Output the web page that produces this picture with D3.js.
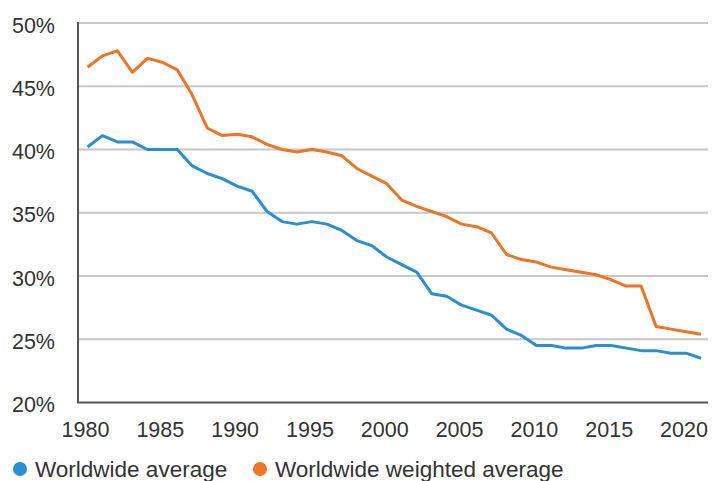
<!DOCTYPE html>
<html>
<head>
<meta charset="utf-8">
<script src="https://cdn.jsdelivr.net/npm/d3@7"></script>
<style>
  body { margin: 0; background: #fff; }
  text { font-family: "Liberation Sans", Arial, sans-serif; fill: #333; }
</style>
</head>
<body>
<svg id="canvas" width="712" height="481"></svg>
<script>
const years = d3.range(1980, 2022);

const worldwideAverage = [
  40.2, 41.1, 40.6, 40.6, 40.0, 40.0, 40.0, 38.7, 38.1, 37.7,
  37.1, 36.7, 35.1, 34.3, 34.1, 34.3, 34.1, 33.6, 32.8, 32.4,
  31.5, 30.9, 30.3, 28.6, 28.4, 27.7, 27.3, 26.9, 25.8, 25.3,
  24.5, 24.5, 24.3, 24.3, 24.5, 24.5, 24.3, 24.1, 24.1, 23.9,
  23.9, 23.5
];

const worldwideWeighted = [
  46.5, 47.4, 47.8, 46.1, 47.2, 46.9, 46.3, 44.3, 41.7, 41.1,
  41.2, 41.0, 40.4, 40.0, 39.8, 40.0, 39.8, 39.5, 38.5, 37.9,
  37.3, 36.0, 35.5, 35.1, 34.7, 34.1, 33.9, 33.4, 31.7, 31.3,
  31.1, 30.7, 30.5, 30.3, 30.1, 29.7, 29.2, 29.2, 26.0, 25.8,
  25.6, 25.4
];

const xTicks = [1980, 1985, 1990, 1995, 2000, 2005, 2010, 2015, 2020];
const yTicks = [20, 25, 30, 35, 40, 45, 50];

const series = [
  { name: "Worldwide average", values: worldwideAverage, color: "#2a8fd2" },
  { name: "Worldwide weighted average", values: worldwideWeighted, color: "#ee7426" }
];

const svg = d3.select("#canvas");
const plotLeft = 78, plotRight = 708, plotTop = 23, plotBottom = 402.5;

const x = d3.scaleLinear().domain([1980, 2021]).range([87.5, 701]);
const y = d3.scaleLinear().domain([20, 50]).range([plotBottom, plotTop]);

// grid lines
svg.append("g")
  .selectAll("line")
  .data(yTicks.filter(d => d > 20))
  .enter()
  .append("line")
  .attr("x1", plotLeft)
  .attr("x2", plotRight)
  .attr("y1", d => y(d))
  .attr("y2", d => y(d))
  .attr("stroke", "#c8c8c8")
  .attr("stroke-width", 2);

// y axis labels
const yAxis = d3.axisLeft(y).tickValues(yTicks).tickSize(0).tickPadding(0)
  .tickFormat(d => d + "%");
svg.append("g")
  .attr("transform", `translate(${plotLeft - 23},0)`)
  .call(yAxis)
  .call(g => g.select(".domain").remove())
  .selectAll("text")
  .attr("dy", "0.42em")
  .style("font-size", "21.5px")
  .style("font-family", "'Liberation Sans', Arial, sans-serif")
  .attr("fill", "#333");

// x axis labels
const xAxis = d3.axisBottom(x).tickValues(xTicks).tickSize(0).tickPadding(0)
  .tickFormat(d3.format("d"));
svg.append("g")
  .attr("transform", `translate(-2.5,${plotBottom + 19})`)
  .call(xAxis)
  .call(g => g.select(".domain").remove())
  .selectAll("text")
  .style("font-size", "21.5px")
  .style("font-family", "'Liberation Sans', Arial, sans-serif")
  .attr("fill", "#333");

// axis lines
svg.append("line")
  .attr("x1", plotLeft).attr("x2", plotLeft)
  .attr("y1", plotTop - 1).attr("y2", plotBottom)
  .attr("stroke", "#555").attr("stroke-width", 2);
svg.append("line")
  .attr("x1", plotLeft - 1).attr("x2", plotRight)
  .attr("y1", plotBottom).attr("y2", plotBottom)
  .attr("stroke", "#555").attr("stroke-width", 2);

const line = d3.line()
  .x((d, i) => x(years[i]))
  .y(d => y(d));

svg.append("g")
  .selectAll("path")
  .data(series)
  .enter()
  .append("path")
  .attr("d", d => line(d.values))
  .attr("fill", "none")
  .attr("stroke", d => d.color)
  .attr("stroke-width", 3)
  .attr("stroke-linejoin", "round");

// legend
const legendX = [20, 260];
const legend = svg.append("g")
  .selectAll("g")
  .data(series)
  .enter()
  .append("g")
  .attr("transform", (d, i) => `translate(${legendX[i]},469)`);
legend.append("circle")
  .attr("r", 7)
  .attr("fill", d => d.color);
legend.append("text")
  .attr("x", 15)
  .attr("y", 8)
  .style("font-size", "22.5px")
  .text(d => d.name);
</script>
</body>
</html>
